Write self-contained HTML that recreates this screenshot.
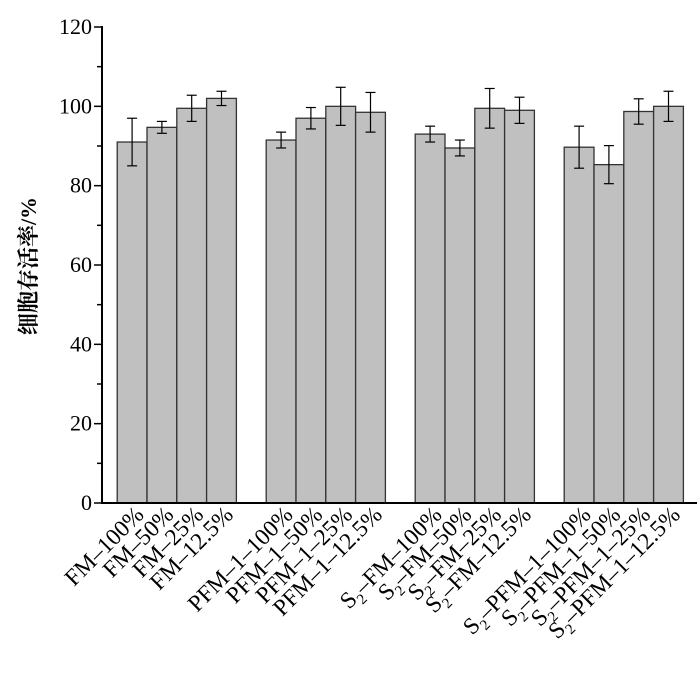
<!DOCTYPE html>
<html><head><meta charset="utf-8"><style>body{margin:0;background:#fff}svg{display:block}</style></head>
<body>
<svg id="chart" width="700" height="673" xmlns="http://www.w3.org/2000/svg" font-family="'Liberation Serif','Noto Serif CJK SC',serif"></svg>
<script>
const categories=["FM–100%","FM–50%","FM–25%","FM–12.5%","PFM–1–100%","PFM–1–50%","PFM–1–25%","PFM–1–12.5%","S2–FM–100%","S2–FM–50%","S2–FM–25%","S2–FM–12.5%","S2–PFM–1–100%","S2–PFM–1–50%","S2–PFM–1–25%","S2–PFM–1–12.5%"];
const values=[91,94.7,99.5,102,91.5,97,100,98.5,93,89.5,99.5,99,89.7,85.3,98.7,100];
const errors=[6,1.5,3.3,1.8,2,2.7,4.8,5,2,2,5,3.3,5.3,4.8,3.2,3.8];
const yTicks=[0,20,40,60,80,100,120];
const svg=document.getElementById('chart');const NS='http://www.w3.org/2000/svg';
function mk(t,a,p){const e=document.createElementNS(NS,t);for(const k in a)e.setAttribute(k,a[k]);(p||svg).appendChild(e);return e;}
const y0=503,yTop=27,yMax=120;const y=v=>y0-(y0-yTop)*v/yMax;
const slotW=29.8,x0=117.2;const xs=i=>x0+(Math.floor(i/4)*5+i%4)*slotW;
categories.forEach((c,i)=>{
 const b=mk('rect',{x:xs(i),y:y(values[i]),width:slotW,height:y0-y(values[i]),fill:'#c0c0c0',stroke:'#333','stroke-width':1.3});
 
 
 const cx=xs(i)+slotW/2,t=y(values[i]+errors[i]),bo=y(values[i]-errors[i]);
 const g=mk('g',{stroke:'#000','stroke-width':1.2});
 
 
 mk('line',{x1:cx,x2:cx,y1:t,y2:bo},g);mk('line',{x1:cx-5,x2:cx+5,y1:t,y2:t},g);mk('line',{x1:cx-5,x2:cx+5,y1:bo,y2:bo},g);
 const tx=mk('text',{x:0,y:0,'font-size':23.5,'text-anchor':'end',transform:`translate(${cx+13},${y0+13}) rotate(-45)`});
 
 
 if(c.startsWith('S2')){tx.appendChild(document.createTextNode('S'));const s=mk('tspan',{'font-size':15,dy:6},tx);s.textContent='2';const r=mk('tspan',{dy:-6},tx);r.textContent=c.slice(2);}
 else tx.textContent=c;
});
const ax=mk('g',{stroke:'#000','stroke-width':2});


mk('line',{x1:102,x2:102,y1:yTop-1,y2:y0+1},ax);mk('line',{x1:101,x2:697,y1:y0,y2:y0},ax);
for(let v=0;v<=yMax;v+=10){const yy=y(v);mk('line',{x1:v%20==0?94:97,x2:102,y1:yy,y2:yy,'stroke-width':1.5},ax);}
yTicks.forEach(v=>{const t=mk('text',{x:92,y:y(v)+7,'font-size':22,'text-anchor':'end'});t.textContent=v;
 
 });
const yt=mk('text',{x:0,y:0,'font-size':22,'font-weight':'bold','text-anchor':'middle',transform:'translate(36,266) rotate(-90)'});
yt.textContent='细胞存活率/%';


</script>
</body></html>
